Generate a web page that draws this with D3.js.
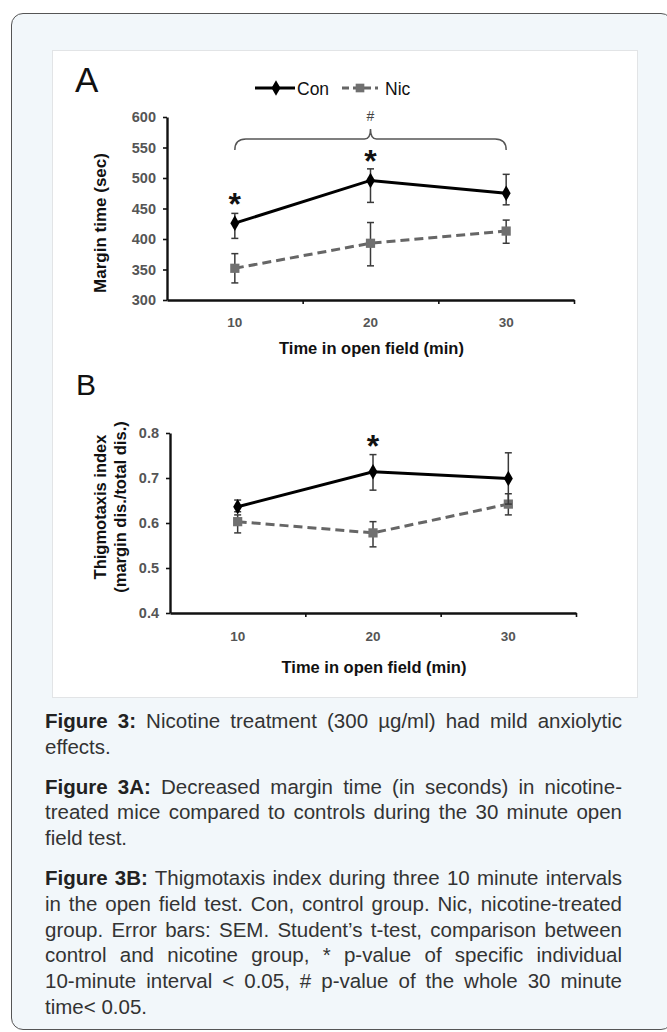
<!DOCTYPE html>
<html>
<head>
<meta charset="utf-8">
<script src="https://cdn.jsdelivr.net/npm/d3@7"></script>
<style>
  body { margin: 0; background: #fff; font-family: "Liberation Sans", Arial, sans-serif; }
  #card {
    position: absolute; left: 11px; top: 13px; width: 662px; height: 1017px;
    border: 1.5px solid #555; border-radius: 12px; background: #f2f7fa; box-sizing: border-box;
  }
  #panel {
    position: absolute; left: 52px; top: 50px; width: 586px; height: 648px;
    background: #fff; border: 1px solid #e2e4e6; box-sizing: border-box;
  }
  #chart { position: absolute; left: 0; top: 0; }
  #caption {
    position: absolute; left: 45px; top: 708px; width: 577px;
    font-size: 20.5px; line-height: 25.7px; color: #333; text-align: justify;
  }
  #caption p { margin: 0 0 14.3px 0; }
  #caption b { color: #222; }
  .nw { white-space: nowrap; }
</style>
</head>
<body>
<div id="card"></div>
<div id="panel"></div>
<div id="chart"></div>
<div id="caption">
  <p><b>Figure 3:</b> Nicotine treatment (300 µg/ml) had mild anxiolytic effects.</p>
  <p><b>Figure 3A:</b> Decreased margin time (in seconds) in nicotine-treated mice compared to controls during the 30 minute open field test.</p>
  <p><b>Figure 3B:</b> Thigmotaxis index during three 10 minute intervals in the open field test. Con, control group. Nic, nicotine-treated group. Error bars: SEM. Student’s t-test, comparison between control and nicotine group, * p-value of specific individual <span class="nw">10-minute</span> interval &lt; 0.05, # p-value of the whole 30 minute time&lt; 0.05.</p>
</div>
<script>
// données
const minutes = ["10", "20", "30"];

// A : temps en marge (sec)
const marginCon = [426, 496, 475];
const marginConHi = [442, 515, 506];
const marginConLo = [401, 460, 456];
const marginNic = [352, 393, 413];
const marginNicHi = [376, 427, 431];
const marginNicLo = [328, 356, 393];
const marginTicks = [300, 350, 400, 450, 500, 550, 600];
const marginStars = ["10", "20"];

// B : indice de thigmotaxie
const thigCon = [0.636, 0.714, 0.699];
const thigConHi = [0.651, 0.752, 0.756];
const thigConLo = [0.625, 0.673, 0.642];
const thigNic = [0.603, 0.578, 0.642];
const thigNicHi = [0.618, 0.603, 0.665];
const thigNicLo = [0.578, 0.547, 0.618];
const thigTicks = [0.4, 0.5, 0.6, 0.7, 0.8];
const thigStars = ["20"];

const svg = d3.select("#chart").append("svg")
  .attr("width", 667)
  .attr("height", 705);

// un panneau (axes, séries, étoiles)
function drawPanel(opt) {
  const x = d3.scaleBand().domain(minutes).range([opt.left, opt.right]);
  const xEdge = d3.scaleLinear().domain([0, 3]).range([opt.left, opt.right]);
  const y = d3.scaleLinear().domain(opt.domain).range([opt.bottom, opt.top]);
  const cx = d => x(d) + x.bandwidth() / 2;

  const g = svg.append("g");

  // axe Y
  const ya = g.append("g")
    .attr("transform", `translate(${opt.left},0)`)
    .call(d3.axisLeft(y).tickValues(opt.ticks).tickSize(4).tickSizeOuter(0).tickPadding(7).tickFormat(opt.fmt));
  ya.select(".domain").attr("stroke", "#111").attr("stroke-width", 2.4);
  ya.selectAll(".tick line").attr("stroke", "#111").attr("stroke-width", 1.6);
  ya.selectAll("text").attr("font-size", 14.5).attr("font-weight", "bold")
    .attr("fill", "#555").attr("font-family", "Liberation Sans, Arial");

  // axe X : traits entre les catégories
  const xa = g.append("g")
    .attr("transform", `translate(0,${opt.bottom})`)
    .call(d3.axisBottom(xEdge).tickValues([1, 2, 3]).tickSize(4).tickSizeOuter(0).tickFormat(""));
  xa.select(".domain").attr("stroke", "#111").attr("stroke-width", 2.4);
  xa.selectAll(".tick line").attr("stroke", "#111").attr("stroke-width", 1.6);

  const xl = g.append("g")
    .attr("transform", `translate(0,${opt.bottom})`)
    .call(d3.axisBottom(x).tickSize(0).tickPadding(opt.xPad));
  xl.select(".domain").remove();
  xl.selectAll("text").attr("font-size", 13.5).attr("font-weight", "bold")
    .attr("fill", "#555").attr("font-family", "Liberation Sans, Arial");

  // titre X
  g.append("text")
    .attr("x", cx("20") + 1)
    .attr("y", opt.xTitleY)
    .attr("text-anchor", "middle")
    .attr("font-size", 16.5).attr("font-weight", "bold")
    .attr("fill", "#111")
    .text("Time in open field (min)");

  // titre Y
  const yt = g.append("text")
    .attr("transform", `translate(${opt.ylabX},${opt.ylabY}) rotate(-90)`)
    .attr("text-anchor", "middle")
    .attr("font-size", opt.ylabSize).attr("font-weight", "bold")
    .attr("fill", "#111");
  opt.ylabel.forEach((t, i) => {
    yt.append("tspan").attr("x", 0).attr("dy", i === 0 ? 0 : 20).text(t);
  });

  // séries
  const series = [
    { v: opt.nic, hi: opt.nicHi, lo: opt.nicLo, color: "#666", dash: "9,5", marker: "square" },
    { v: opt.con, hi: opt.conHi, lo: opt.conLo, color: "#000", dash: null, marker: "diamond" }
  ];

  series.forEach(s => {
    const pts = minutes.map((m, i) => ({ m, v: s.v[i], hi: s.hi[i], lo: s.lo[i] }));

    g.append("path")
      .datum(pts)
      .attr("fill", "none")
      .attr("stroke", s.color)
      .attr("stroke-width", 3)
      .attr("stroke-dasharray", s.dash)
      .attr("d", d3.line().x(d => cx(d.m)).y(d => y(d.v)));

    const eb = g.append("g").selectAll("g")
      .data(pts)
      .enter().append("g")
      .attr("stroke", "#3a3a3a")
      .attr("stroke-width", 1.5);
    eb.append("line")
      .attr("x1", d => cx(d.m)).attr("x2", d => cx(d.m))
      .attr("y1", d => y(d.hi)).attr("y2", d => y(d.lo));
    eb.append("line")
      .attr("x1", d => cx(d.m) - 3.5).attr("x2", d => cx(d.m) + 3.5)
      .attr("y1", d => y(d.hi)).attr("y2", d => y(d.hi));
    eb.append("line")
      .attr("x1", d => cx(d.m) - 3.5).attr("x2", d => cx(d.m) + 3.5)
      .attr("y1", d => y(d.lo)).attr("y2", d => y(d.lo));

    const sym = s.marker === "diamond" ? d3.symbolDiamond : d3.symbolSquare;
    g.append("g").selectAll("path")
      .data(pts)
      .enter().append("path")
      .attr("transform", d => `translate(${cx(d.m)},${y(d.v)})`)
      .attr("d", d3.symbol().type(sym).size(s.marker === "diamond" ? 70 : 85))
      .attr("fill", s.marker === "diamond" ? "#000" : "#707070");
  });

  // étoiles (centre du glyphe à starGap au-dessus du point)
  g.append("g").selectAll("text")
    .data(opt.stars)
    .enter().append("text")
    .attr("x", d => cx(d))
    .attr("y", d => y(opt.con[minutes.indexOf(d)]) - opt.starGap + 18)
    .attr("text-anchor", "middle")
    .attr("font-size", 32).attr("font-weight", "bold")
    .attr("fill", "#111")
    .text("*");

  return { g, x, y, cx };
}

const A = drawPanel({
  left: 167, right: 574, top: 117, bottom: 300,
  domain: [300, 600], ticks: marginTicks, fmt: d3.format("d"),
  con: marginCon, conHi: marginConHi, conLo: marginConLo,
  nic: marginNic, nicHi: marginNicHi, nicLo: marginNicLo,
  stars: marginStars, starGap: 26, xPad: 17, xTitleY: 354,
  ylabX: 106, ylabY: 223, ylabSize: 17,
  ylabel: ["Margin time (sec)"]
});

const B = drawPanel({
  left: 170, right: 576, top: 433, bottom: 613,
  domain: [0.4, 0.8], ticks: thigTicks, fmt: d3.format(".1f"),
  con: thigCon, conHi: thigConHi, conLo: thigConLo,
  nic: thigNic, nicHi: thigNicHi, nicLo: thigNicLo,
  stars: thigStars, starGap: 33, xPad: 18, xTitleY: 673,
  ylabX: 106, ylabY: 507, ylabSize: 16.5,
  ylabel: ["Thigmotaxis index", "(margin dis./total dis.)"]
});

// lettres des panneaux
svg.append("text").attr("x", 75).attr("y", 92).attr("font-size", 35).attr("fill", "#111").text("A");
svg.append("text").attr("x", 76).attr("y", 395).attr("font-size", 30).attr("fill", "#111").text("B");

// accolade # au-dessus de A (de 10 à 30 min)
const bx0 = A.cx("10"), bx1 = A.cx("30"), bxm = A.cx("20"), by = 139;
svg.append("path")
  .attr("fill", "none").attr("stroke", "#555").attr("stroke-width", 1.5)
  .attr("d", `M${bx0},${by + 11} Q${bx0},${by} ${bx0 + 11},${by} L${bxm - 6},${by} Q${bxm},${by} ${bxm},${by - 10} Q${bxm},${by} ${bxm + 6},${by} L${bx1 - 11},${by} Q${bx1},${by} ${bx1},${by + 11}`);
svg.append("text")
  .attr("x", bxm).attr("y", 121)
  .attr("text-anchor", "middle").attr("font-size", 14).attr("fill", "#444")
  .text("#");

// légende
const leg = svg.append("g").attr("transform", "translate(0,88)");
leg.append("line").attr("x1", 255).attr("x2", 295).attr("stroke", "#000").attr("stroke-width", 3);
leg.append("path").attr("transform", "translate(276,0)")
  .attr("d", d3.symbol().type(d3.symbolDiamond).size(70)).attr("fill", "#000");
leg.append("text").attr("x", 297).attr("y", 6.5).attr("font-size", 17.5).attr("fill", "#111").text("Con");
leg.append("line").attr("x1", 342).attr("x2", 378).attr("stroke", "#666").attr("stroke-width", 3)
  .attr("stroke-dasharray", "7,4");
leg.append("path").attr("transform", "translate(360,0)")
  .attr("d", d3.symbol().type(d3.symbolSquare).size(75)).attr("fill", "#707070");
leg.append("text").attr("x", 385).attr("y", 6.5).attr("font-size", 17.5).attr("fill", "#111").text("Nic");
</script>
</body>
</html>
